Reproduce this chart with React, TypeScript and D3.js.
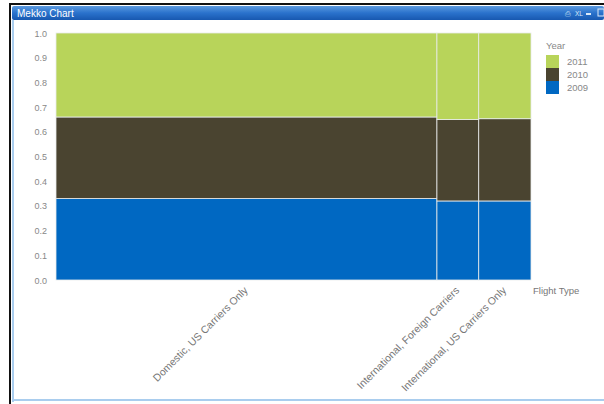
import React from "react";
import * as d3 from "d3";

const flightTypes = ["Domestic, US Carriers Only", "International, Foreign Carriers", "International, US Carriers Only"];
const typeTotals = [80.2, 8.8, 11.0];
const years = ["2009", "2010", "2011"];
const share2009 = [0.33, 0.32, 0.32];
const share2010 = [0.33, 0.33, 0.333];
const share2011 = [0.34, 0.35, 0.347];
const yTicks = [0, 0.1, 0.2, 0.3, 0.4, 0.5, 0.6, 0.7, 0.8, 0.9, 1.0];
const yearColors = ["#0068c2", "#4a4430", "#b8d45a"];

const W = 604, H = 404;
const M = { left: 56, right: 531, top: 33, bottom: 280 };

export default function App() {
  const totalSum = d3.sum(typeTotals);
  const cum = d3.cumsum(typeTotals);
  const x = d3.scaleLinear().domain([0, totalSum]).range([M.left, M.right]);
  const y = d3.scaleLinear().domain([0, 1]).range([M.bottom, M.top]);
  const shares = [share2009, share2010, share2011];
  const rows = flightTypes.map((f, i) => {
    const obj: any = { type: f };
    years.forEach((yr, k) => (obj[yr] = shares[k][i]));
    return obj;
  });
  const stack = d3.stack().keys(years)(rows);
  const font = "'Liberation Sans', Arial, sans-serif";

  return (
    <svg width={W} height={H} style={{ position: "absolute", left: 0, top: 0, background: "#fff" }} fontFamily={font}>
      <defs>
        <linearGradient id="tb" x1="0" y1="0" x2="0" y2="1">
          <stop offset="0" stopColor="#5b9ae0" />
          <stop offset="0.5" stopColor="#2a72cc" />
          <stop offset="1" stopColor="#1858b0" />
        </linearGradient>
      </defs>
      <rect x={0} y={0} width={W} height={H} fill="#fff" />
      {/* outer frame */}
      <rect x={9} y={3} width={W - 9} height={2} fill="#111" />
      <rect x={9} y={3} width={2} height={H - 3} fill="#111" />
      <rect x={12} y={6} width={W - 12} height={14} fill="url(#tb)" rx={2} />
      <rect x={12} y={20} width={2} height={H - 22} fill="#a9cdee" />
      <rect x={12} y={399} width={W - 12} height={2} fill="#a9cdee" />
      <text x={17} y={16.5} fontSize={10} fill="#fff">Mekko Chart</text>
      <g fill="#dce9f8" fontSize={7}>
        <text x={565} y={16}>⎙</text>
        <text x={575} y={16} fontSize={6.5}>XL</text>
        <rect x={586} y={13} width={5} height={2} />
        <rect x={598} y={9} width={6} height={7} fill="none" stroke="#dce9f8" strokeWidth={1} />
      </g>

      {/* y axis labels */}
      {yTicks.map((t) => (
        <text key={t} x={47} y={y(t) + 3.5} textAnchor="end" fontSize={9} fill="#888">
          {d3.format(".1f")(t)}
        </text>
      ))}

      {/* bars */}
      {stack.map((layer, k) => (
        <g key={years[k]}>
          {layer.map((d, i) => {
            const x0 = x(cum[i] - typeTotals[i]);
            const x1 = x(cum[i]);
            return (
              <rect
                key={i}
                x={x0}
                y={y(d[1])}
                width={x1 - x0}
                height={y(d[0]) - y(d[1])}
                fill={yearColors[k]}
                stroke="#e8ecec"
                strokeWidth={0.8}
              />
            );
          })}
        </g>
      ))}

      {/* category labels */}
      {flightTypes.map((f, i) => {
        const cx = x(cum[i] - typeTotals[i] / 2) + 2;
        return (
          <text
            key={f}
            transform={`translate(${cx},${M.bottom + 11}) rotate(-45)`}
            textAnchor="end"
            fontSize={10.5}
            fill="#777"
          >
            {f}
          </text>
        );
      })}
      <text x={533} y={294} fontSize={9.5} fill="#777">Flight Type</text>

      {/* legend */}
      <text x={546} y={49} fontSize={9.5} fill="#888">Year</text>
      {[...years].reverse().map((yr, j) => {
        const k = years.length - 1 - j;
        return (
          <g key={yr}>
            <rect x={546} y={55 + j * 13} width={13} height={13} fill={yearColors[k]} />
            <text x={567} y={65 + j * 13} fontSize={9.5} fill="#888">{yr}</text>
          </g>
        );
      })}
    </svg>
  );
}
